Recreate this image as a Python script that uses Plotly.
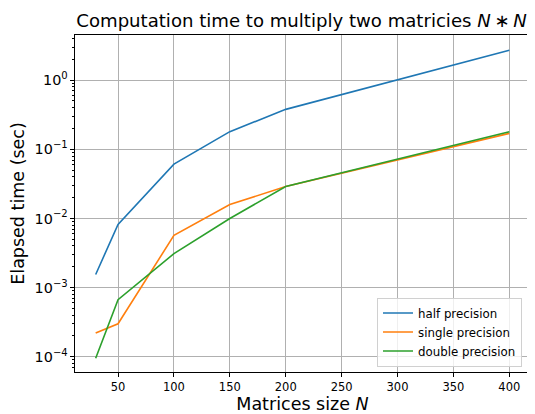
import plotly.graph_objects as go

sizes = [30, 50, 100, 150, 200, 400]
half_precision = [0.00155, 0.0082, 0.061, 0.18, 0.378, 2.71]
single_precision = [0.00022, 0.00030, 0.0057, 0.0159, 0.029, 0.17]
double_precision = [0.000095, 0.00067, 0.0031, 0.0100, 0.029, 0.18]
series_names = ["half precision", "single precision", "double precision"]
colors = ["#1f77b4", "#ff7f0e", "#2ca02c"]
ytick_default = ["10<sup>−4</sup>", "10<sup>−3</sup>", "10<sup>−2</sup>", "10<sup>−1</sup>", "1"]
ytick_text = ["10<sup>−4</sup>", "10<sup>−3</sup>", "10<sup>−2</sup>", "10<sup>−1</sup>", "10<sup>0</sup>"]
xtick_vals = [50, 100, 150, 200, 250, 300, 350, 400]

# the page body has an 8px margin; lay the figure out in the visible area
OFF = 8
W, H = 535 - OFF, 414 - OFF
L, R, T, B = 75, 530, 35, 372  # plot area in page pixels

font = "DejaVu Sans"
fig = go.Figure()
for name, vals, c in zip(series_names, [half_precision, single_precision, double_precision], colors):
    fig.add_trace(go.Scatter(x=sizes, y=vals, mode="lines", name=name,
                             line=dict(color=c, width=1.6)))

fig.update_layout(
    width=W, height=H,
    margin=dict(l=L - OFF, r=W - (R - OFF), t=T - OFF, b=H - (B - OFF), autoexpand=False),
    paper_bgcolor="white", plot_bgcolor="white",
    font=dict(family=font, size=11.5, color="black"),
    title=dict(text="Computation time to multiply two matricies <i>N</i>\u2009∗\u2009<i>N</i>",
               x=((69 + 534) / 2 - OFF) / W, xanchor="center", y=1 - (20.5 - OFF) / H, yanchor="middle",
               font=dict(size=18.1, family=font, color="black")),
    showlegend=True,
    legend=dict(x=(522 - L) / (R - L), y=5.5 / (B - T), xanchor="right", yanchor="bottom",
                bgcolor="rgba(255,255,255,0.8)", bordercolor="#d0d0d0", borderwidth=1,
                font=dict(size=11.8, family=font), itemwidth=30,
                tracegroupgap=0),
)
fig.update_xaxes(
    range=[11.5, 418.5], tickvals=xtick_vals, ticks="outside", ticklen=4, tickcolor="black",
    showgrid=True, gridcolor="#b0b0b0", gridwidth=1,
    showline=True, linecolor="black", linewidth=1, mirror=True, zeroline=False,
    title=dict(text="Matrices size <i>N</i>", font=dict(size=17.5, family=font), standoff=4),
    automargin=False,
)
fig.update_yaxes(
    type="log", range=[-4.22, 0.653], tickmode="linear", tick0=0, dtick=1,
    exponentformat="power", showexponent="all",
    labelalias=dict(zip(ytick_default, ytick_text)),
    ticks="outside", ticklen=4, tickcolor="black",
    minor=dict(ticks="outside", ticklen=2, tickcolor="black", dtick="D1", showgrid=False),
    showgrid=True, gridcolor="#b0b0b0", gridwidth=1,
    showline=True, linecolor="black", linewidth=1, mirror=True, zeroline=False,
    title=dict(text="Elapsed time (sec)", font=dict(size=17.5, family=font), standoff=8),
    automargin=False,
)

fig.write_html("out.html")
